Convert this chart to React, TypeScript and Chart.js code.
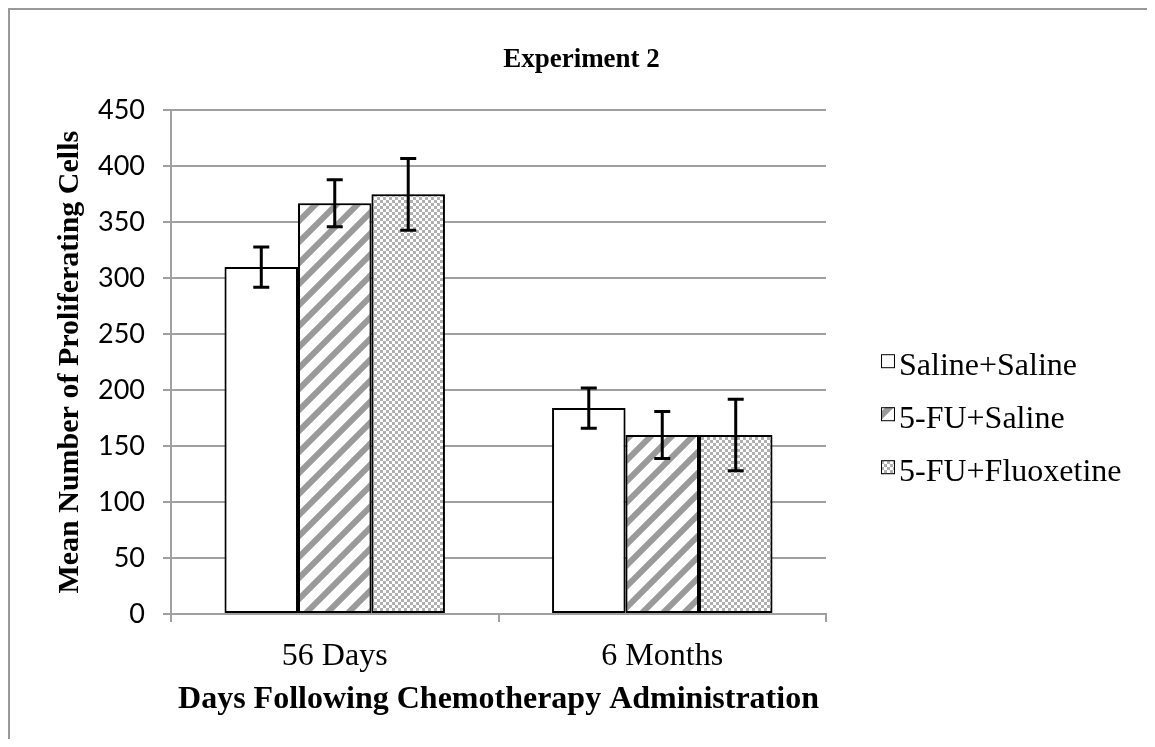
import React, { useEffect, useRef } from 'react';
import { Chart, registerables } from 'chart.js';

Chart.register(...registerables);

const categories = ['56 Days', '6 Months'];
const seriesLabels = ['Saline+Saline', '5-FU+Saline', '5-FU+Fluoxetine'];
const salineSaline = [310, 184];
const fuSaline = [367, 160];
const fuFluoxetine = [375, 160];
const salineSalineErr = [18, 18];
const fuSalineErr = [21, 21];
const fuFluoxetineErr = [32, 32];
const yMin = 0;
const yMax = 450;
const yStep = 50;

const SERIF = '"Liberation Serif", "Times New Roman", serif';
const SANS = 'Lato, "DejaVu Sans", sans-serif';

function hatchPattern(): CanvasPattern | string {
  const s = 21;
  const c = document.createElement('canvas');
  c.width = s;
  c.height = s;
  const g = c.getContext('2d');
  if (!g) return '#ccc';
  g.fillStyle = '#ffffff';
  g.fillRect(0, 0, s, s);
  g.strokeStyle = '#9a9a9a';
  g.lineWidth = 6;
  g.beginPath();
  g.moveTo(-5, s + 5);
  g.lineTo(s + 5, -5);
  g.moveTo(-5, 5);
  g.lineTo(5, -5);
  g.moveTo(s - 5, s + 5);
  g.lineTo(s + 5, s - 5);
  g.stroke();
  return g.createPattern(c, 'repeat') || '#ccc';
}

function dotPattern(): CanvasPattern | string {
  const s = 6;
  const c = document.createElement('canvas');
  c.width = s;
  c.height = s;
  const g = c.getContext('2d');
  if (!g) return '#ddd';
  g.fillStyle = '#ffffff';
  g.fillRect(0, 0, s, s);
  g.fillStyle = '#b0b0b0';
  g.fillRect(0, 0, 3, 3);
  g.fillRect(3, 3, 3, 3);
  return g.createPattern(c, 'repeat') || '#ddd';
}

const framePlugin = {
  id: 'frame',
  beforeDraw(chart: any) {
    const ctx = chart.ctx;
    ctx.save();
    ctx.fillStyle = '#ffffff';
    ctx.fillRect(0, 0, chart.width, chart.height);
    ctx.restore();
  },
  afterDraw(chart: any) {
    const ctx = chart.ctx;
    ctx.save();
    ctx.strokeStyle = '#999999';
    ctx.lineWidth = 2;
    ctx.beginPath();
    ctx.moveTo(1, chart.height + 10);
    ctx.lineTo(1, 1);
    ctx.lineTo(chart.width + 10, 1);
    ctx.stroke();
    ctx.restore();
  },
};

const barDecorPlugin = {
  id: 'barDecor',
  beforeDatasetsDraw(chart: any) {
    const ctx = chart.ctx;
    ctx.save();
    ctx.shadowColor = 'rgba(0,0,0,0.5)';
    ctx.shadowBlur = 10;
    ctx.shadowOffsetX = 0;
    ctx.shadowOffsetY = 0;
  },
  afterDatasetsDraw(chart: any) {
    const ctx = chart.ctx;
    ctx.restore();
    const yScale = chart.scales.y;
    ctx.save();
    ctx.strokeStyle = '#000000';
    ctx.lineWidth = 3;
    chart.data.datasets.forEach((ds: any, i: number) => {
      const meta = chart.getDatasetMeta(i);
      meta.data.forEach((bar: any, j: number) => {
        const v = ds.data[j];
        const e = ds.errors[j];
        const yT = yScale.getPixelForValue(v + e);
        const yB = yScale.getPixelForValue(v - e);
        const x = bar.x;
        const cap = 8;
        ctx.beginPath();
        ctx.moveTo(x, yT);
        ctx.lineTo(x, yB);
        ctx.moveTo(x - cap, yT);
        ctx.lineTo(x + cap, yT);
        ctx.moveTo(x - cap, yB);
        ctx.lineTo(x + cap, yB);
        ctx.stroke();
      });
    });
    ctx.restore();
  },
};

const sideLegendPlugin = {
  id: 'sideLegend',
  afterDraw(chart: any) {
    const ctx = chart.ctx;
    const area = chart.chartArea;
    const mid = (area.top + area.bottom) / 2;
    const bx = area.right + 55;
    const box = 14;
    ctx.save();
    chart.data.datasets.forEach((ds: any, i: number) => {
      const cy = mid + 52 + (i - 1) * 53;
      ctx.fillStyle = ds.backgroundColor;
      ctx.fillRect(bx, cy - box / 2, box, box);
      ctx.strokeStyle = '#000000';
      ctx.lineWidth = 1;
      ctx.strokeRect(bx + 0.5, cy - box / 2 + 0.5, box - 1, box - 1);
      ctx.fillStyle = '#000000';
      ctx.font = '32px ' + SERIF;
      ctx.textBaseline = 'middle';
      ctx.textAlign = 'left';
      ctx.fillText(ds.label, bx + 18, cy + 5);
    });
    ctx.restore();
  },
};

export default function App() {
  const ref = useRef<HTMLCanvasElement | null>(null);

  useEffect(() => {
    if (!ref.current) return;
    document.documentElement.style.overflow = 'hidden';
    document.body.style.overflow = 'hidden';
    const fills = ['#ffffff', hatchPattern(), dotPattern()];
    const values = [salineSaline, fuSaline, fuFluoxetine];
    const errs = [salineSalineErr, fuSalineErr, fuFluoxetineErr];
    const chart = new Chart(ref.current, {
      type: 'bar',
      data: {
        labels: categories,
        datasets: seriesLabels.map((label, i) => ({
          label,
          data: values[i],
          errors: errs[i],
          backgroundColor: fills[i],
          borderColor: '#000000',
          borderWidth: 2,
          borderSkipped: false,
          categoryPercentage: 0.673,
          barPercentage: 1.0,
        })) as any,
      },
      options: {
        responsive: false,
        animation: false,
        devicePixelRatio: 1,
        layout: { padding: 0 },
        plugins: {
          legend: { display: false },
          tooltip: { enabled: false },
          title: {
            display: true,
            text: 'Experiment 2',
            color: '#000000',
            font: { family: SERIF, size: 27, weight: 'bold' },
            padding: { top: 36, bottom: 34 },
          },
        },
        scales: {
          x: {
            type: 'category',
            grid: {
              display: true,
              offset: true,
              drawOnChartArea: false,
              drawTicks: true,
              tickLength: 8,
              color: '#a0a0a0',
              lineWidth: 2,
            },
            border: { display: true, color: '#a0a0a0', width: 2 },
            ticks: {
              color: '#000000',
              font: { family: SERIF, size: 32 },
              padding: 15,
              maxRotation: 0,
            },
            title: {
              display: true,
              text: 'Days Following Chemotherapy Administration',
              color: '#000000',
              font: { family: SERIF, size: 32, weight: 'bold' },
              padding: { top: 0, bottom: 28 },
            },
            afterFit(s: any) {
              s.height = 133;
            },
          },
          y: {
            type: 'linear',
            position: 'left',
            min: yMin,
            max: yMax,
            ticks: {
              stepSize: yStep,
              color: '#000000',
              font: { family: SANS, size: 27 },
              padding: 18,
            },
            grid: {
              color: '#a0a0a0',
              lineWidth: 2,
              drawTicks: true,
              tickLength: 8,
            },
            border: { display: true, color: '#a0a0a0', width: 2 },
            title: {
              display: true,
              text: 'Mean Number of Proliferating Cells',
              color: '#000000',
              font: { family: SERIF, size: 30, weight: 'bold' },
              padding: { top: 44, bottom: 0 },
            },
            afterFit(s: any) {
              s.width = 163;
            },
          },
          yRight: {
            type: 'linear',
            position: 'right',
            min: 0,
            max: 1,
            display: true,
            ticks: { display: false },
            grid: { display: false, drawTicks: false },
            border: { display: false },
            afterFit(s: any) {
              s.width = 329;
            },
          },
        },
      } as any,
      plugins: [framePlugin, barDecorPlugin, sideLegendPlugin],
    });
    return () => chart.destroy();
  }, []);

  return (
    <div style={{ width: 1147, height: 731, overflow: 'hidden' }}>
      <canvas ref={ref} width={1147} height={739} style={{ display: 'block' }} />
    </div>
  );
}
